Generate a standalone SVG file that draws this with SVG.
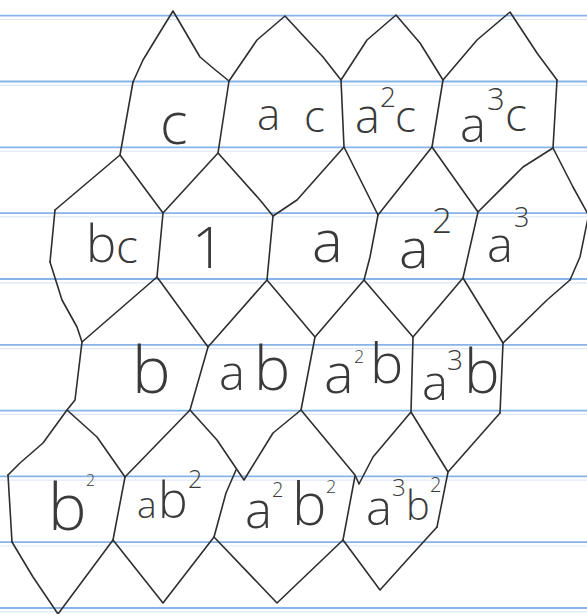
<svg xmlns="http://www.w3.org/2000/svg" width="587" height="614" viewBox="0 0 587 614">
<style>
.rule{stroke:#86b3e8;stroke-width:1.8;fill:none}
.rule2{stroke:#dfe9f6;stroke-width:1.2;fill:none}
.edge{stroke:#2e2e2e;stroke-width:1.6;fill:none;stroke-linejoin:round;stroke-linecap:round}
.lbl{font-family:"Open Sans","Liberation Sans",sans-serif;font-weight:300;fill:#3a3a3a}
</style>
<rect width="587" height="614" fill="#ffffff"/>
<g id="paper">
<path class="rule" d="M0,15.7H587M0,81.5H587M0,147.3H587M0,213.1H587M0,279H587M0,344.8H587M0,410.6H587M0,476.4H587M0,542.2H587M0,608H587"/>
<path class="rule2" d="M0,19.5H587M0,85.3H587M0,151.1H587M0,216.9H587M0,282.8H587M0,348.6H587M0,414.4H587M0,480.2H587M0,546H587M0,611.8H587"/>
</g>
<g id="connectors">
<path class="edge" d="M133,82 L143,60 L157,37 L173,11 L200,57 L213,68 L229,81 L257,40 L285,16 L323,57 L341,80 L367,40 L396,15 L420,43 L443,80 L477,40 L510,12 L537,53 L557,80"/>
<path class="edge" d="M133,82 L128,110 L120,155 M229,81 L218,153 M341,80 L344,147 M443,80 L432,147 M557,80 L553,148"/>
<path class="edge" d="M55,210 L120,155 L163,213 L218,153 L260,200 L273,216 L297,200 L344,147 L378,215 L432,147 L478,212 L523,167 L553,148 L573,187 L589,216"/>
<path class="edge" d="M55,210 L50,262 M163,213 L157,277 M273,216 L267,280 M378,215 L370,257 L364,280 M478,212 L463,278 M588,218 L580,257 L570,280"/>
<path class="edge" d="M50,262 L62,300 L77,327 L82,342 L157,277 L208,347 L267,280 L315,337 L364,280 L413,337 L463,278 L503,343 L547,300 L570,280"/>
<path class="edge" d="M82,342 L75,400 L67,410 M208,347 L190,410 M315,337 L301,410 M413,337 L411,412 M503,343 L500,413"/>
<path class="edge" d="M8,475 L20,463 L43,443 L67,410 L97,437 L125,477 L190,410 L217,440 L244,480 L273,433 L301,410 L355,475 L359,484 L373,457 L411,412 L448,472 L500,413"/>
<path class="edge" d="M8,475 L12,542 M125,477 L113,540 M236,470 L226,493 L214,537 M355,476 L343,540 M448,472 L437,527"/>
<path class="edge" d="M12,542 L33,577 L58,614 L113,540 L163,603 L214,537 L277,603 L343,540 L380,590 L407,560 L437,527"/>
</g>
<g id="n-c"><text class="lbl" x="160" y="144" font-size="58">c</text></g>
<g id="n-ac"><text class="lbl"><tspan x="257" y="130" font-size="44">a</tspan><tspan x="304" y="132" font-size="44">c</tspan></text></g>
<g id="n-a2c"><text class="lbl"><tspan x="355" y="133" font-size="47">a</tspan><tspan x="380" y="107" font-size="28">2</tspan><tspan x="395" y="132" font-size="44">c</tspan></text></g>
<g id="n-a3c"><text class="lbl"><tspan x="460" y="142" font-size="49">a</tspan><tspan x="487" y="110" font-size="31">3</tspan><tspan x="505" y="131" font-size="46">c</tspan></text></g>
<g id="n-bc"><text class="lbl"><tspan x="86" y="262" font-size="51">b</tspan><tspan x="116" y="263" font-size="46">c</tspan></text></g>
<g id="n-1"><text class="lbl" x="192" y="268" font-size="57">1</text></g>
<g id="n-a"><text class="lbl" x="312" y="262" font-size="58">a</text></g>
<g id="n-a2"><text class="lbl"><tspan x="399" y="268" font-size="56">a</tspan><tspan x="432" y="233" font-size="35">2</tspan></text></g>
<g id="n-a3"><text class="lbl"><tspan x="487" y="262" font-size="49">a</tspan><tspan x="514" y="227" font-size="27">3</tspan></text></g>
<g id="n-b"><text class="lbl" x="132" y="393" font-size="65">b</text></g>
<g id="n-ab"><text class="lbl"><tspan x="219" y="390" font-size="49">a</tspan><tspan x="254" y="390" font-size="61">b</tspan></text></g>
<g id="n-a2b"><text class="lbl"><tspan x="324" y="393" font-size="56">a</tspan><tspan x="354" y="363" font-size="18">2</tspan><tspan x="370" y="383" font-size="56">b</tspan></text></g>
<g id="n-a3b"><text class="lbl"><tspan x="422" y="400" font-size="49">a</tspan><tspan x="447" y="370" font-size="28">3</tspan><tspan x="464" y="393" font-size="60">b</tspan></text></g>
<g id="n-b2"><text class="lbl"><tspan x="48" y="530" font-size="65">b</tspan><tspan x="86" y="486" font-size="16">2</tspan></text></g>
<g id="n-ab2"><text class="lbl"><tspan x="137" y="518" font-size="37">a</tspan><tspan x="158" y="518" font-size="50">b</tspan><tspan x="188" y="488" font-size="25">2</tspan></text></g>
<g id="n-a2b2"><text class="lbl"><tspan x="245" y="528" font-size="51">a</tspan><tspan x="272" y="497" font-size="20">2</tspan><tspan x="292" y="525" font-size="58">b</tspan><tspan x="326" y="493" font-size="18">2</tspan></text></g>
<g id="n-a3b2"><text class="lbl"><tspan x="366" y="525" font-size="49">a</tspan><tspan x="392" y="496" font-size="24">3</tspan><tspan x="406" y="520" font-size="40">b</tspan><tspan x="430" y="492" font-size="20">2</tspan></text></g>
</svg>
